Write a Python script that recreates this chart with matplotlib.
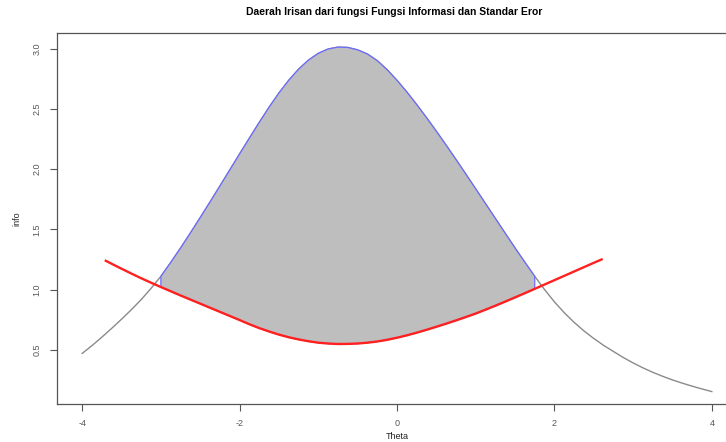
import numpy as np
import matplotlib
matplotlib.use("Agg")
import matplotlib.pyplot as plt

# Test information function (theta step 0.125)
theta = [-4.000, -3.875, -3.750, -3.625, -3.500, -3.375, -3.250, -3.125,
         -3.000, -2.875, -2.750, -2.625, -2.500, -2.375, -2.250, -2.125,
         -2.000, -1.875, -1.750, -1.625, -1.500, -1.375, -1.250, -1.125,
         -1.000, -0.875, -0.750, -0.625, -0.500, -0.375, -0.250, -0.125,
         0.000, 0.125, 0.250, 0.375, 0.500, 0.625, 0.750, 0.875,
         1.000, 1.125, 1.250, 1.375, 1.500, 1.625, 1.750, 1.875,
         2.000, 2.125, 2.250, 2.375, 2.500, 2.625, 2.750, 2.875,
         3.000, 3.125, 3.250, 3.375, 3.500, 3.625, 3.750, 3.875, 4.000]
info = [0.470, 0.535, 0.605, 0.678, 0.754, 0.833, 0.917, 1.010,
        1.110, 1.225, 1.345, 1.470, 1.598, 1.728, 1.860, 1.993,
        2.126, 2.258, 2.388, 2.514, 2.632, 2.738, 2.830, 2.905,
        2.961, 2.997, 3.013, 3.010, 2.990, 2.955, 2.900, 2.825,
        2.737, 2.640, 2.536, 2.427, 2.314, 2.198, 2.079, 1.958,
        1.836, 1.713, 1.590, 1.467, 1.345, 1.226, 1.110, 1.000,
        0.898, 0.808, 0.728, 0.657, 0.594, 0.537, 0.486, 0.436,
        0.391, 0.350, 0.313, 0.280, 0.250, 0.223, 0.198, 0.175, 0.153]

# Standard error curve
se_theta = [-3.700, -3.625, -3.500, -3.375, -3.250, -3.125, -3.000, -2.875,
            -2.750, -2.625, -2.500, -2.375, -2.250, -2.125, -2.000, -1.875,
            -1.750, -1.625, -1.500, -1.375, -1.250, -1.125, -1.000, -0.875,
            -0.750, -0.625, -0.500, -0.375, -0.250, -0.125, 0.000, 0.125,
            0.250, 0.375, 0.500, 0.625, 0.750, 0.875, 1.000, 1.125,
            1.250, 1.375, 1.500, 1.625, 1.750, 1.875, 2.000, 2.125,
            2.250, 2.375, 2.500, 2.600]
se = [1.239, 1.214, 1.173, 1.133, 1.094, 1.057, 1.021, 0.986,
      0.951, 0.917, 0.883, 0.849, 0.815, 0.781, 0.747, 0.712,
      0.680, 0.652, 0.626, 0.604, 0.586, 0.571, 0.559, 0.552,
      0.548, 0.549, 0.552, 0.559, 0.569, 0.583, 0.600, 0.620,
      0.642, 0.666, 0.691, 0.717, 0.744, 0.772, 0.801, 0.833,
      0.866, 0.900, 0.935, 0.970, 1.006, 1.042, 1.078, 1.114,
      1.150, 1.186, 1.222, 1.250]

# range where info lies above SE
lo, hi = -3.0, 1.75

theta = np.array(theta)
info = np.array(info)
se_theta = np.array(se_theta)
se = np.array(se)

plt.rcParams["font.family"] = ["Liberation Sans", "DejaVu Sans"]

fig = plt.figure(figsize=(7.26, 4.42), dpi=100)
ax = fig.add_axes([57 / 726, 38 / 442, 680 / 726, 371 / 442])

ax.plot(theta, info, color="#8a8a8a", lw=1.0, zorder=2)

m1 = (theta >= lo) & (theta <= hi)
m2 = (se_theta >= lo) & (se_theta <= hi)
px = np.concatenate([theta[m1], se_theta[m2][::-1]])
py = np.concatenate([info[m1], se[m2][::-1]])
ax.fill(px, py, facecolor="#bebebe", edgecolor="#6b6bff", lw=0.9, zorder=3)

ax.plot(se_theta, se, color="#ff2020", lw=1.7, zorder=4)

ax.set_xlim(-4.32, 4.32)
ax.set_ylim(0.05, 3.13)
ax.set_xticks([-4, -2, 0, 2, 4])
ax.set_yticks([0.5, 1.0, 1.5, 2.0, 2.5, 3.0])
ax.set_xticklabels(["-4", "-2", "0", "2", "4"])
ax.set_yticklabels(["0.5", "1.0", "1.5", "2.0", "2.5", "3.0"], rotation=90, va="center")
ax.tick_params(direction="out", length=5, width=0.8, colors="#555555",
               labelsize=6.5, pad=6)
for s in ax.spines.values():
    s.set_color("#555555")
    s.set_linewidth(0.9)

ax.set_xlabel("Theta", fontsize=6.5, color="#222222", labelpad=3)
ax.set_ylabel("info", fontsize=6.5, color="#222222", labelpad=8)
fig.text(394 / 726, 1 - 12 / 442, "Daerah Irisan dari fungsi Fungsi Informasi dan Standar Eror",
         ha="center", va="center", fontsize=7.5, fontweight="bold")

fig.savefig("out.png", dpi=100)
